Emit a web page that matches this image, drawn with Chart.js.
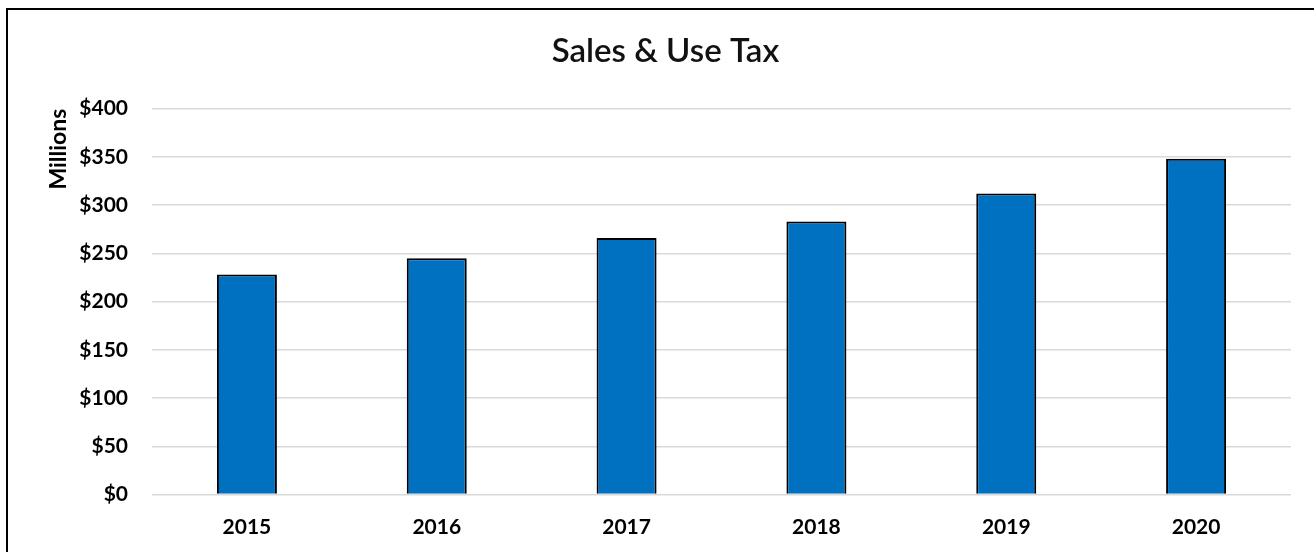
<!DOCTYPE html>
<html>
<head>
<meta charset="utf-8">
<script src="https://cdn.jsdelivr.net/npm/chart.js@4"></script>
<style>
  html, body { margin: 0; padding: 0; background: #fff; overflow: hidden; }
  #wrap { position: relative; width: 1314px; height: 552px; }
  #marco {
    position: absolute; left: 6px; top: 8px; width: 1400px; height: 700px;
    border-left: 2px solid #000; border-top: 2px solid #000; box-sizing: border-box;
  }
  canvas { position: absolute; left: 0; top: 0; }
</style>
</head>
<body>
<div id="wrap">
  <div id="marco"></div>
  <canvas id="grafico" width="1314" height="552"></canvas>
</div>
<script>
// datos (millones de $)
const anios   = ['2015', '2016', '2017', '2018', '2019', '2020'];
const impuesto = [228, 245, 266, 283, 312, 348];
const titulo  = 'Sales & Use Tax';
const tituloY = 'Millions';

const fuente = 'Lato, "Open Sans", sans-serif';

const ctx = document.getElementById('grafico').getContext('2d');
new Chart(ctx, {
  type: 'bar',
  data: {
    labels: anios,
    datasets: [{
      data: impuesto,
      backgroundColor: '#0070C0',
      borderColor: '#000',
      borderWidth: 2,
      categoryPercentage: 1,
      barPercentage: 0.316
    }]
  },
  options: {
    responsive: false,
    animation: false,
    layout: { padding: { left: 40, right: 23, top: 0, bottom: 0 } },
    plugins: {
      legend: { display: false },
      tooltip: { enabled: false },
      title: {
        display: true,
        text: titulo,
        color: '#111',
        font: { family: fuente, size: 33, weight: '600' },
        padding: { top: 32, bottom: 37 }
      }
    },
    scales: {
      x: {
        grid: { display: false },
        border: { display: false },
        ticks: {
          color: '#000', padding: 12,
          font: { family: fuente, size: 21, weight: 'bold' }
        },
        afterFit: s => { s.height = 57.5; }
      },
      y: {
        min: 0, max: 400,
        grid: { color: '#d9d9d9', lineWidth: 1.5, drawTicks: false },
        border: { display: false },
        ticks: {
          stepSize: 50, color: '#000', padding: 24,
          font: { family: fuente, size: 21, weight: 'bold' },
          callback: v => '$' + v
        },
        title: {
          display: true, text: tituloY, align: 'end', color: '#000',
          font: { family: fuente, size: 23, weight: 'bold' },
          padding: { top: 5, bottom: 0 }
        },
        afterFit: s => { s.width = 112; }
      }
    }
  }
});
</script>
</body>
</html>
